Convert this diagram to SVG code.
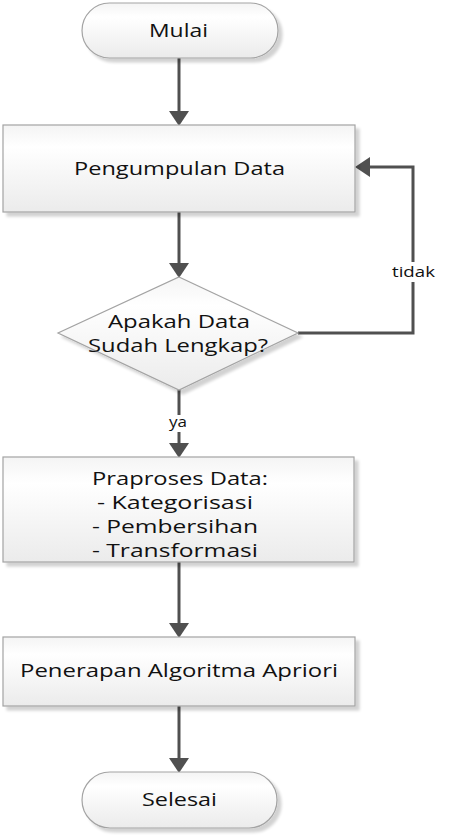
<svg xmlns="http://www.w3.org/2000/svg" width="474" height="836" viewBox="0 0 474 836">
<defs>
<linearGradient id="g" x1="0" y1="0" x2="0" y2="1">
<stop offset="0" stop-color="#f4f4f4"/>
<stop offset="0.25" stop-color="#ffffff"/>
<stop offset="1" stop-color="#ebebeb"/>
</linearGradient>
<filter id="sh" x="-10%" y="-10%" width="130%" height="130%">
<feGaussianBlur in="SourceAlpha" stdDeviation="1.5"/>
<feOffset dx="4" dy="4" result="b"/>
<feComponentTransfer><feFuncA type="linear" slope="0.18"/></feComponentTransfer>
<feMerge><feMergeNode/><feMergeNode in="SourceGraphic"/></feMerge>
</filter>
<marker id="ah" markerUnits="userSpaceOnUse" markerWidth="15" markerHeight="20" viewBox="0 0 15 20" refX="0" refY="10" orient="auto">
<path d="M0,0 L15,10 L0,20 z" fill="#505050"/>
</marker>
</defs>
<style>
.shape{fill:url(#g);stroke:#a3a3a3;stroke-width:1.2;filter:url(#sh)}
.t{font-family:"Open Sans","Noto Sans",sans-serif;font-size:19px;fill:#111;text-anchor:middle}
.b{font-family:"Open Sans","Noto Sans",sans-serif;font-size:17.5px;fill:#111;text-anchor:middle}
.s{font-family:"Open Sans","Noto Sans",sans-serif;font-size:15px;fill:#111;text-anchor:middle}
.c{fill:none;stroke:#505050;stroke-width:3}
</style>
<rect width="474" height="836" fill="#ffffff"/>
<g id="connectors">
<line class="c" x1="179" y1="58" x2="179" y2="111" marker-end="url(#ah)"/>
<line class="c" x1="179" y1="212" x2="179" y2="263" marker-end="url(#ah)"/>
<line class="c" x1="179" y1="390" x2="179" y2="415"/>
<line class="c" x1="179" y1="432" x2="179" y2="443" marker-end="url(#ah)"/>
<line class="c" x1="179" y1="562" x2="179" y2="623" marker-end="url(#ah)"/>
<line class="c" x1="179" y1="706" x2="179" y2="758" marker-end="url(#ah)"/>
<polyline class="c" points="298,333 413,333 413,282"/>
<polyline class="c" points="413,262 413,167 370,167" marker-end="url(#ah)"/>
<text class="s" x="413.5" y="277" textLength="43" lengthAdjust="spacingAndGlyphs">tidak</text>
<text class="s" x="178" y="427" textLength="18" lengthAdjust="spacingAndGlyphs">ya</text>
</g>
<g id="mulai">
<rect class="shape" x="82" y="3" width="196" height="55" rx="27.5" ry="27.5"/>
<text class="t" x="178.5" y="37" textLength="59" lengthAdjust="spacingAndGlyphs">Mulai</text>
</g>
<g id="pengumpulan">
<rect class="shape" x="3" y="125" width="352" height="87"/>
<text class="t" x="179.5" y="175" textLength="211" lengthAdjust="spacingAndGlyphs">Pengumpulan Data</text>
</g>
<g id="cek">
<polygon class="shape" points="179,277 298,333 179,390 58,333"/>
<text class="t" x="179" y="328" textLength="142" lengthAdjust="spacingAndGlyphs">Apakah Data</text>
<text class="t" x="178" y="352" textLength="180" lengthAdjust="spacingAndGlyphs">Sudah Lengkap?</text>
</g>
<g id="praproses">
<rect class="shape" x="3" y="457" width="351" height="105"/>
<text class="b" x="180" y="485" textLength="176" lengthAdjust="spacingAndGlyphs">Praproses Data:</text>
<text class="b" x="175" y="509" textLength="156" lengthAdjust="spacingAndGlyphs">- Kategorisasi</text>
<text class="b" x="175" y="533" textLength="166" lengthAdjust="spacingAndGlyphs">- Pembersihan</text>
<text class="b" x="175" y="557" textLength="166" lengthAdjust="spacingAndGlyphs">- Transformasi</text>
</g>
<g id="penerapan">
<rect class="shape" x="3" y="637" width="352" height="69"/>
<text class="t" x="179" y="677" textLength="318" lengthAdjust="spacingAndGlyphs">Penerapan Algoritma Apriori</text>
</g>
<g id="selesai">
<rect class="shape" x="82" y="772" width="195" height="56" rx="28" ry="28"/>
<text class="t" x="179.5" y="806" textLength="75" lengthAdjust="spacingAndGlyphs">Selesai</text>
</g>
</svg>
